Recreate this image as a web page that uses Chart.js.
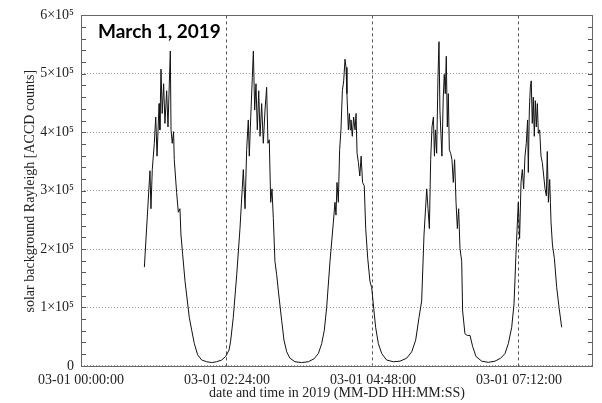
<!DOCTYPE html>
<html>
<head>
<meta charset="utf-8">
<script src="https://cdn.jsdelivr.net/npm/chart.js@4"></script>
<style>
html,body{margin:0;padding:0;background:#fff;}
#wrap{width:602px;height:403px;}
</style>
</head>
<body>
<div id="wrap"><canvas id="c" width="602" height="403"></canvas></div>
<script>
// time in minutes after 2019-03-01 00:00:00
const tMin = [
62.5,68,69,70.3,72.3,73.7,75,77,77.8,78.9,80.1,81.5,82.8,84.5,85.8,87.1,88.1,88.8,90,91.3,92,94.3,96,97.6,98.6,100.3,102.6,104.9,106.8,109.2,111.8,115,119,124,128.9,133.8,138.8,142.7,146,147.5,
150.2,153.6,156.8,160.1,161.8,163.4,165,166,167.4,169,170,171.3,172.6,173.9,175.3,176.6,178.2,179.8,181.5,183.1,184.4,185.7,187.1,188.4,189.7,191.3,193,195,197.9,200.2,202.9,206.1,211,217.7,224.2,229.8,234.1,237.4,240,242.3,
245.6,248.9,250.5,251.5,252.5,253.8,255.1,256.4,257.8,259.1,260.4,261.4,262.3,263.7,264.7,265.6,266.3,267.6,268.9,270.3,271.3,272.3,273.6,275,276.3,277.7,279.4,280.8,282.8,285,286.7,288.3,290.6,293.3,296.6,301.4,308,314.6,321.2,326.2,330.1,333.4,336,
338.3,341,342.3,343.6,344.9,346.2,347.6,348.6,349.6,350.8,352.1,353.1,354,355,356,357.3,358.3,359.3,360.3,361.3,362.3,363.3,364.6,365.9,367.2,368.5,369.9,371.2,372.5,373.8,375.5,376.4,378.7,381,383.7,386.3,389.6,395.2,401.7,408.3,413.9,418.2,421.5,424.8,427.1,
429,431.3,432.6,434,435.3,436.6,437.9,439.2,440.5,441.2,442.2,443.2,444.1,445.1,446.1,447.1,448.1,449.1,450.1,451.1,452.4,453.7,455,456.4,457.7,459,459.9,461,462.3,463,463.6,465,466.9,469.2,471.5,474.1
];
// solar background Rayleigh [ACCD counts]
const counts = [
169000,334000,269000,336000,381000,426000,359000,449000,404000,508000,432000,483000,415000,471000,409000,483000,539000,404000,381000,401000,353000,297000,263000,269000,224000,190000,145000,111000,83000,61000,38000,19000,10000,7000,5600,7000,10000,16000,27000,41000,
83000,156000,235000,336000,269000,370000,421000,359000,426000,494000,539000,438000,483000,404000,471000,393000,449000,381000,438000,477000,381000,387000,280000,303000,252000,179000,156000,123000,78000,44000,24000,13000,7000,5600,7000,12000,21000,38000,61000,100000,
179000,246000,280000,258000,314000,280000,370000,404000,471000,488000,525000,511000,466000,404000,432000,404000,421000,393000,426000,404000,432000,364000,348000,325000,359000,314000,308000,235000,184000,145000,134000,106000,66000,38000,21000,10000,7000,8000,13000,24000,44000,83000,111000,
224000,303000,269000,235000,353000,409000,426000,359000,404000,364000,494000,555000,438000,398000,359000,460000,499000,466000,530000,409000,466000,370000,364000,353000,314000,353000,280000,235000,269000,201000,179000,94000,55000,52000,52000,33000,16000,8000,6000,8000,13000,21000,38000,66000,106000,
190000,280000,218000,314000,336000,303000,359000,381000,421000,331000,438000,477000,488000,415000,460000,393000,454000,409000,449000,398000,404000,359000,348000,325000,303000,291000,367000,280000,319000,280000,246000,207000,184000,134000,100000,66000
];
const xTickValues = [0, 144, 288, 432];
const xTickLabels = ["03-01 00:00:00", "03-01 02:24:00", "03-01 04:48:00", "03-01 07:12:00"];
const yTickValues = [0, 100000, 200000, 300000, 400000, 500000, 600000];
const yTickLabels = ["0", "1×10⁵", "2×10⁵", "3×10⁵", "4×10⁵", "5×10⁵", "6×10⁵"];
const yMinorStep = 20000;
const chartTitle = "March 1, 2019";
const xTitle = "date and time in 2019 (MM-DD HH:MM:SS)";
const yTitle = "solar background Rayleigh [ACCD counts]";

const points = tMin.map((t, i) => ({x: t, y: counts[i]}));
const serif = "'Liberation Serif', 'Times New Roman', serif";

const framePlugin = {
  id: 'frame',
  afterDatasetsDraw(chart) {
    const {ctx, chartArea: a, scales: {y}} = chart;
    ctx.save();
    ctx.strokeStyle = '#555';
    ctx.lineWidth = 1;
    // inward ticks on left and right
    ctx.beginPath();
    for (let v = 0; v <= 600000; v += yMinorStep) {
      const py = Math.round(y.getPixelForValue(v)) + 0.5;
      ctx.moveTo(a.left, py); ctx.lineTo(a.left + 5, py);
      ctx.moveTo(a.right, py); ctx.lineTo(a.right - 5, py);
    }
    ctx.stroke();
    ctx.strokeStyle = '#666';
    ctx.strokeRect(Math.round(a.left) + 0.5, Math.round(a.top) + 0.5, Math.round(a.right - a.left) - 1, Math.round(a.bottom - a.top) - 1);
    // title inside plot
    ctx.fillStyle = '#000';
    ctx.font = "bold 19px Lato, 'Open Sans', sans-serif";
    ctx.textBaseline = 'alphabetic';
    ctx.textAlign = 'left';
    ctx.fillText(chartTitle, a.left + 17, a.top + 23);
    ctx.restore();
  }
};

new Chart(document.getElementById('c'), {
  type: 'line',
  data: {
    datasets: [{
      data: points,
      borderColor: '#111',
      borderWidth: 1,
      pointRadius: 0,
      tension: 0,
      fill: false
    }]
  },
  options: {
    responsive: false,
    animation: false,
    layout: {padding: {top: 10, right: 9, left: 0, bottom: 0}},
    plugins: {legend: {display: false}, tooltip: {enabled: false}},
    scales: {
      x: {
        type: 'linear',
        min: 0,
        max: 505,
        afterBuildTicks: s => { s.ticks = xTickValues.map(v => ({value: v})); },
        afterFit: s => { s.height = 36; },
        ticks: {
          autoSkip: false,
          maxRotation: 0,
          padding: 5,
          color: '#222',
          font: {family: serif, size: 14},
          callback: (v) => { const i = xTickValues.indexOf(v); return i >= 0 ? xTickLabels[i] : ''; }
        },
        grid: {
          drawTicks: false,
          color: ctx => (ctx.tick && ctx.tick.value === 0) ? 'rgba(0,0,0,0)' : '#555',
          lineWidth: 1
        },
        border: {display: false, dash: [3, 3]},
        title: {display: true, text: xTitle, color: '#222', font: {family: serif, size: 14}, padding: {top: 0, bottom: 1}}
      },
      y: {
        min: -2000,
        max: 600000,
        afterBuildTicks: s => { s.ticks = yTickValues.map(v => ({value: v})); },
        afterFit: s => { s.width = 81; },
        ticks: {
          padding: 7,
          color: '#222',
          font: {family: serif, size: 14},
          callback: (v) => { const i = yTickValues.indexOf(v); return i >= 0 ? yTickLabels[i] : ''; }
        },
        grid: {
          drawTicks: false,
          color: '#999',
          lineWidth: 1
        },
        border: {display: false, dash: [1, 2]},
        title: {display: true, text: yTitle, color: '#222', font: {family: serif, size: 14}, padding: {top: 22, bottom: 0}}
      }
    }
  },
  plugins: [framePlugin]
});
</script>
</body>
</html>
